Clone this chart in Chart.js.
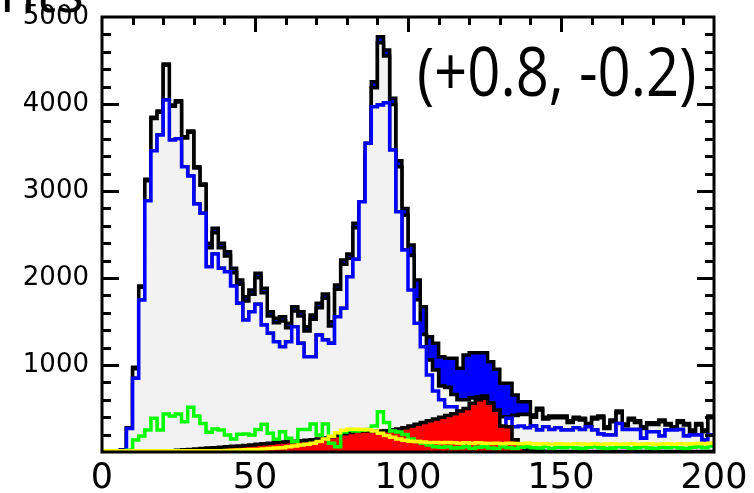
<!DOCTYPE html>
<html lang="en">
<head>
<meta charset="UTF-8">
<title>Histogram stack</title>
<script src="https://cdn.jsdelivr.net/npm/chart.js"></script>
<style>
  html, body { margin: 0; padding: 0; background: #fff; overflow: hidden; }
  canvas { display: block; }
</style>
</head>
<body>
<canvas id="histChart" width="754" height="493"></canvas>
<script>
// 100 bins of width 2 between 0 and 200
const binWidth = 2;
const xTicks = [0, 50, 100, 150, 200];
const yTicks = [1000, 2000, 3000, 4000, 5000];

// top of the whole stack (black outline)
const totalTop = [
  0, 0, 0, 20, 280, 973, 1908, 3134, 3847, 3920,
  4460, 3989, 4038, 3625, 3690, 3280, 3080, 2398, 2571, 2398,
  2302, 2111, 1977, 1785, 1862, 2054, 1881, 1613, 1536, 1555,
  1479, 1670, 1613, 1441, 1575, 1709, 1816, 1498, 1920, 2207,
  2276, 2628, 2851, 3452, 4257, 4774, 4621, 4065, 3349, 2800,
  2380, 1977, 1670, 1326, 1249, 1096, 1077, 1077, 962, 1115,
  1142, 1142, 1142, 1038, 950, 789, 789, 655, 578, 578,
  425, 502, 398, 414, 414, 414, 360, 398, 387, 329,
  398, 414, 291, 368, 471, 322, 387, 360, 291, 337,
  337, 368, 329, 291, 360, 329, 253, 329, 253, 414
];

// top of the layer under the blue one (inner black outline)
const innerTop = [
  0, 0, 0, 20, 280, 958, 1893, 3119, 3832, 3905,
  4445, 3974, 4023, 3610, 3675, 3265, 3065, 2348, 2521, 2348,
  2252, 2061, 1927, 1735, 1812, 2004, 1831, 1563, 1486, 1505,
  1429, 1620, 1563, 1391, 1525, 1659, 1766, 1448, 1870, 2157,
  2226, 2578, 2801, 3402, 4187, 4704, 4551, 3995, 3279, 2720,
  2260, 1750, 1350, 1057, 942, 760, 740, 660, 600, 600,
  620, 630, 640, 560, 480, 406, 406, 420, 430, 430,
  400, 482, 378, 394, 394, 394, 340, 378, 367, 309,
  378, 394, 271, 348, 451, 302, 367, 340, 271, 317,
  317, 348, 309, 271, 340, 309, 233, 309, 233, 394
];

// shifted distribution, blue line
const shiftedLine = [
  0, 0, 0, 20, 270, 847, 1747, 2889, 3464, 3644,
  4046, 3586, 3602, 3280, 3172, 2851, 2743, 2130, 2276, 2111,
  2073, 1908, 1709, 1517, 1613, 1697, 1460, 1364, 1268, 1211,
  1268, 1441, 1249, 1096, 1096, 1345, 1287, 1249, 1556, 1652,
  2015, 2215, 2877, 3548, 3969, 3988, 4015, 3471, 2762, 2322,
  1862, 1479, 1211, 885, 700, 600, 520, 520, 464, 400,
  400, 400, 406, 380, 291, 291, 387, 291, 300, 280,
  300, 253, 291, 260, 280, 253, 253, 280, 260, 290,
  253, 207, 195, 195, 329, 260, 260, 260, 157, 234,
  234, 184, 253, 253, 260, 184, 195, 195, 138, 195
];

// bottom red component
const redTop = [
  0, 0, 0, 0, 0, 0, 0, 0, 0, 0,
  10, 15, 20, 25, 30, 35, 40, 45, 50, 55,
  60, 65, 70, 75, 80, 90, 95, 100, 110, 115,
  120, 125, 130, 135, 140, 150, 160, 175, 190, 210,
  225, 235, 240, 240, 235, 240, 245, 255, 265, 280,
  300, 320, 340, 360, 380, 400, 420, 440, 470, 500,
  560, 600, 617, 560, 480, 300, 290, 140, 60, 30,
  20, 15, 10, 8, 5, 5, 5, 5, 5, 5,
  5, 5, 5, 5, 5, 5, 5, 5, 5, 5,
  5, 5, 5, 5, 5, 5, 5, 5, 5, 5
];

const greenLine = [
  0, 0, 0, 0, 20, 138, 184, 253, 387, 253,
  437, 414, 437, 349, 513, 414, 329, 226, 264, 253,
  195, 149, 203, 207, 195, 260, 318, 215, 146, 234,
  157, 119, 260, 260, 322, 195, 322, 100, 60, 230,
  250, 240, 250, 260, 300, 464, 340, 240, 230, 200,
  150, 120, 100, 80, 60, 55, 60, 45, 50, 60,
  40, 55, 60, 45, 40, 60, 50, 40, 55, 60,
  50, 45, 60, 40, 55, 50, 60, 45, 40, 55,
  60, 50, 40, 45, 60, 55, 40, 50, 60, 45,
  40, 55, 50, 60, 45, 40, 55, 60, 50, 70
];

const yellowLine = [
  15, 15, 15, 15, 15, 15, 15, 15, 15, 15,
  15, 15, 15, 15, 15, 15, 15, 15, 15, 15,
  18, 20, 22, 25, 28, 30, 35, 40, 45, 50,
  60, 70, 80, 90, 100, 120, 150, 180, 220, 250,
  262, 262, 260, 255, 240, 215, 190, 170, 150, 135,
  125, 120, 115, 110, 110, 105, 108, 105, 100, 105,
  100, 105, 100, 98, 100, 95, 100, 98, 95, 100,
  95, 92, 95, 90, 95, 92, 90, 95, 92, 90,
  95, 90, 92, 95, 90, 92, 95, 90, 92, 95,
  90, 92, 95, 90, 95, 92, 95, 98, 95, 100
];

// bins where the white gap shows between the blue line and the inner outline
const gapFirstBin = 50;
const gapLastBin = 69;

function steps(vals) {
  const pts = vals.map((v, i) => ({ x: i * binWidth, y: v }));
  pts.push({ x: vals.length * binWidth, y: vals[vals.length - 1] });
  return pts;
}

const gapTop = innerTop.map((v, i) => (i >= gapFirstBin && i <= gapLastBin) ? v : shiftedLine[i]);

function hist(values, line, fillColor) {
  return {
    data: steps(values),
    stepped: 'before',
    borderColor: line,
    borderWidth: 3.5,
    backgroundColor: fillColor || 'transparent',
    fill: fillColor ? 'origin' : false,
    pointRadius: 0,
    borderJoinStyle: 'miter'
  };
}

const frame = {
  id: 'frame',
  afterDraw(chart) {
    const { ctx, chartArea: a, scales: { x, y } } = chart;
    ctx.save();
    ctx.strokeStyle = '#000';
    ctx.lineWidth = 3;
    ctx.strokeRect(a.left, a.top, a.right - a.left, a.bottom - a.top);
    ctx.beginPath();
    for (let v = 200; v < 5000; v += 200) {
      const py = Math.round(y.getPixelForValue(v)) + 0.5;
      const len = v % 1000 === 0 ? 17 : 9;
      ctx.moveTo(a.left, py); ctx.lineTo(a.left + len, py);
      ctx.moveTo(a.right, py); ctx.lineTo(a.right - len, py);
    }
    for (let v = 10; v < 200; v += 10) {
      const px = Math.round(x.getPixelForValue(v)) + 0.5;
      const len = v % 50 === 0 ? 15 : 8;
      ctx.moveTo(px, a.top); ctx.lineTo(px, a.top + len);
    }
    ctx.stroke();

    ctx.fillStyle = '#000';
    ctx.textBaseline = 'alphabetic';
    // annotation, slightly taller than wide like the original
    ctx.save();
    ctx.translate(417, 96);
    ctx.scale(1, 1.18);
    ctx.font = '58px "Open Sans"';
    ctx.fillText('(+0.8, -0.2)', 0, 0);
    ctx.restore();
    ctx.font = '58px "Open Sans"';
    ctx.fillText('nts', 0, 12);
    ctx.restore();
  }
};

new Chart(document.getElementById('histChart'), {
  type: 'line',
  data: {
    datasets: [
      hist(yellowLine, '#ffff00'),
      hist(greenLine, '#00ff00'),
      hist(redTop, '#000000', '#ff0000'),
      hist(shiftedLine, '#0000ff', '#f2f2f2'),
      hist(gapTop, '#000000', '#ffffff'),
      hist(innerTop, '#000000', '#f2f2f2'),
      hist(totalTop, '#000000', '#0000ff')
    ]
  },
  options: {
    responsive: false,
    animation: false,
    layout: { padding: { top: 17, right: 40, left: 0, bottom: 0 } },
    plugins: { legend: { display: false }, tooltip: { enabled: false }, filler: { propagate: false } },
    scales: {
      x: {
        type: 'linear', min: 0, max: 200,
        afterFit: s => { s.height = 41; },
        afterBuildTicks: s => { s.ticks = xTicks.map(v => ({ value: v })); },
        grid: { display: false, drawTicks: false },
        border: { display: false },
        ticks: { color: '#000', padding: 6, maxRotation: 0, font: { family: 'DejaVu Sans', size: 35 } }
      },
      y: {
        type: 'linear', min: 0, max: 5000,
        afterFit: s => { s.width = 102; },
        afterBuildTicks: s => { s.ticks = yTicks.map(v => ({ value: v })); },
        grid: { display: false, drawTicks: false },
        border: { display: false },
        ticks: { color: '#000', padding: 13, callback: v => String(v), font: { family: 'DejaVu Sans', size: 26, lineHeight: 0.1 } }
      }
    }
  },
  plugins: [frame]
});
</script>
</body>
</html>
